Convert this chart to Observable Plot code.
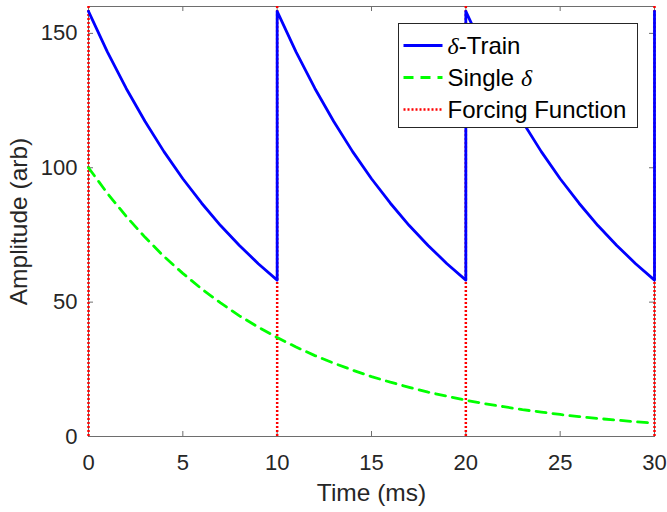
<!DOCTYPE html>
<html>
<head>
<meta charset="utf-8">
<script src="https://cdn.jsdelivr.net/npm/d3@7"></script>
<script src="https://cdn.jsdelivr.net/npm/@observablehq/plot@0.6"></script>
<style>
  html, body { margin: 0; padding: 0; background: #fff; }
  #chart { width: 667px; height: 512px; }
</style>
</head>
<body>
<div id="chart"></div>
<script>
// ---- data ----
const singleT = [0,1,2,3,4,5,6,7,8,9,10,11,12,13,14,15,16,17,18,19,20,21,22,23,24,25,26,27,28,29,30];
const singleY = [100,90.5,81.9,74.1,67.0,60.7,54.9,49.7,44.9,40.7,36.8,33.3,30.1,27.3,24.7,22.3,20.2,18.3,16.5,15.0,13.5,12.2,11.1,10.0,9.1,8.2,7.4,6.7,6.1,5.5,5.0];

const trainT = [0,1,2,3,4,5,6,7,8,9,10,
                10,11,12,13,14,15,16,17,18,19,20,
                20,21,22,23,24,25,26,27,28,29,30,
                30];
const trainY = [158.2,143.1,129.5,117.2,106.0,95.9,86.8,78.5,71.1,64.3,58.2,
                158.2,143.1,129.5,117.2,106.0,95.9,86.8,78.5,71.1,64.3,58.2,
                158.2,143.1,129.5,117.2,106.0,95.9,86.8,78.5,71.1,64.3,58.2,
                158.2];

const forcingT = [0, 10, 20, 30];

const xTicks = [0, 5, 10, 15, 20, 25, 30];
const yTicks = [0, 50, 100, 150];

const legendNames = ["-Train", "Single ", "Forcing Function"];

// ---- tables ----
const single = singleT.map((t, i) => ({t, y: singleY[i]}));
const train = trainT.map((t, i) => ({t, y: trainY[i]}));

const W = 667, H = 512;
const mL = 88, mR = 13, mT = 6, mB = 76;
const fw = W - mL - mR, fh = H - mT - mB;
const axisColor = "#262626";
const lineColor = "#6e6e6e";

const plot = Plot.plot({
  width: W, height: H,
  marginLeft: mL, marginRight: mR, marginTop: mT, marginBottom: mB,
  style: {fontFamily: "'Liberation Sans', Arial, Helvetica, sans-serif", fontSize: "22px", color: axisColor, background: "white"},
  x: {domain: [0, 30]},
  y: {domain: [0, 160]},
  marks: [
    Plot.frame({stroke: lineColor, strokeWidth: 1}),
    // inward ticks bottom/top
    Plot.tickX(xTicks, {x: d => d, stroke: lineColor, insetTop: fh - 5}),
    Plot.tickX(xTicks, {x: d => d, stroke: lineColor, insetBottom: fh - 5}),
    // inward ticks left/right
    Plot.tickY(yTicks, {y: d => d, stroke: lineColor, insetRight: fw - 5}),
    Plot.tickY(yTicks, {y: d => d, stroke: lineColor, insetLeft: fw - 5}),
    Plot.ruleX(forcingT, {x: d => d, y1: 0, y2: 160, stroke: "#ff0000", strokeWidth: 2.5, strokeDasharray: "2,2"}),
    Plot.line(train, {x: "t", y: "y", stroke: "#0000ff", strokeWidth: 2.8}),
    Plot.line(single, {x: "t", y: "y", stroke: "#00ff00", strokeWidth: 2.8, strokeDasharray: "10,7"}),
    Plot.axisX(xTicks, {tickSize: 0, tickPadding: 18, label: null, fontSize: 22, fill: axisColor}),
    Plot.axisY(yTicks, {tickSize: 0, tickPadding: 11, label: null, fontSize: 22, fill: axisColor}),
    Plot.text(["Time (ms)"], {frameAnchor: "bottom", dy: 64, fontSize: 24.5, fill: axisColor, textAnchor: "middle"}),
    Plot.text(["Amplitude (arb)"], {frameAnchor: "left", dx: -69, rotate: -90, fontSize: 24.5, fill: axisColor, textAnchor: "middle"})
  ]
});

document.getElementById("chart").appendChild(plot);

// ---- legend ----
const svg = d3.select(plot);
const lg = svg.append("g").attr("transform", "translate(398.5,23.5)").attr("text-anchor", "start");
lg.append("rect").attr("width", 239).attr("height", 104)
  .attr("fill", "white").attr("stroke", axisColor).attr("stroke-width", 1);
const styles = [
  {stroke: "#0000ff", dash: null},
  {stroke: "#00ff00", dash: "10,7"},
  {stroke: "#ff0000", dash: "2,2"}
];
const rowY = [22, 54, 86];
legendNames.forEach((name, i) => {
  lg.append("line").attr("x1", 5).attr("x2", 44).attr("y1", rowY[i]).attr("y2", rowY[i])
    .attr("stroke", styles[i].stroke).attr("stroke-width", i === 2 ? 2.5 : 2.8)
    .attr("stroke-dasharray", styles[i].dash);
  const t = lg.append("text").attr("x", 49).attr("y", rowY[i]).attr("dy", "0.35em")
    .attr("text-anchor", "start")
    .attr("font-family", "'Liberation Sans', Arial, sans-serif").attr("font-size", 24).attr("fill", "#000");
  if (i === 0) {
    t.append("tspan").attr("font-family", "'Liberation Serif', 'Times New Roman', serif").attr("font-style", "italic").text("δ");
    t.append("tspan").text(name);
  } else if (i === 1) {
    t.append("tspan").text(name);
    t.append("tspan").attr("font-family", "'Liberation Serif', 'Times New Roman', serif").attr("font-style", "italic").text("δ");
  } else {
    t.append("tspan").text(name);
  }
});
</script>
</body>
</html>
